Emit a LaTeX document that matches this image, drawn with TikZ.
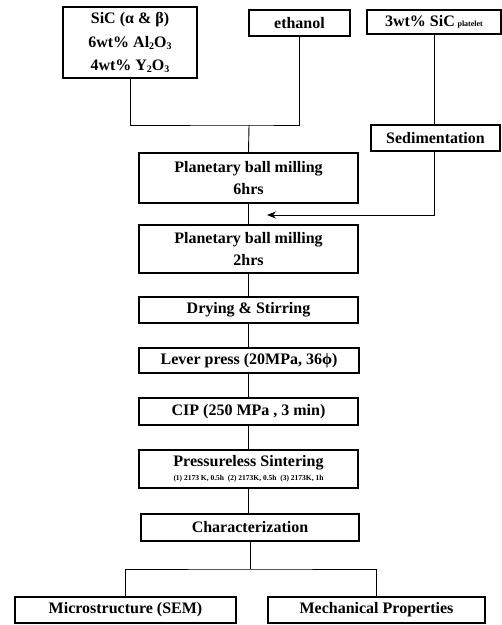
\documentclass[tikz,border=0pt]{standalone}
\usepackage{fontspec}
\setmainfont{Liberation Serif}
\usetikzlibrary{arrows.meta}
\newcommand{\lowr}[1]{\raisebox{-0.35ex}{\fontsize{10}{10}\selectfont #1}}
\begin{document}
\begin{tikzpicture}[x=1pt,y=-1pt,
  box/.style={draw,line width=1.1pt,inner sep=0pt,align=center,font=\fontsize{16}{22}\selectfont\bfseries},
  conn/.style={line width=0.9pt}]
\useasboundingbox (0,0) rectangle (502,625);
\node[box,minimum width=134pt,minimum height=71pt] (sic) at (130,42.5) {SiC (α \& β)\\[2pt]6wt\% Al\lowr{2}O\lowr{3}\\[1pt]4wt\% Y\lowr{2}O\lowr{3}};
\node[box,minimum width=101pt,minimum height=26pt] (eth) at (299.5,23) {ethanol};
\node[box,minimum width=134pt,minimum height=24pt] (plt) at (434,22) {3wt\% SiC\,{\fontsize{8}{8}\selectfont platelet}};
\node[box,minimum width=129pt,minimum height=26pt] (sed) at (435.5,138) {Sedimentation};
\node[box,minimum width=219pt,minimum height=50pt] (pbm1) at (248.5,178) {Planetary ball milling\\6hrs};
\node[box,minimum width=219pt,minimum height=48pt] (pbm2) at (248.5,249) {Planetary ball milling\\2hrs};
\node[box,minimum width=219pt,minimum height=26pt] (dry) at (248.5,310) {Drying \& Stirring};
\node[box,minimum width=220pt,minimum height=25pt] (lev) at (249,360.5) {Lever press (20MPa, 36ϕ)};
\node[box,minimum width=219pt,minimum height=27pt] (cip) at (248.5,411.5) {CIP (250 MPa , 3 min)};
\node[box,minimum width=219pt,minimum height=38pt] (sint) at (248.5,469) {Pressureless Sintering\\[-8pt]{\fontsize{7.5}{9}\selectfont (1) 2173 K, 0.5h\ \ (2) 2173K, 0.5h\ \ (3) 2173K, 1h}};
\node[box,minimum width=218pt,minimum height=27pt] (char) at (250,527.5) {Characterization};
\node[box,minimum width=221pt,minimum height=26pt] (mic) at (125.5,610) {Microstructure (SEM)};
\node[box,minimum width=217pt,minimum height=26pt] (mech) at (376.5,610) {Mechanical Properties};
\coordinate (j1) at (249,125);
\coordinate (arr) at (267,215);
\coordinate (j2) at (250,569);
\draw[conn] (sic.south) |- (j1) -| (eth.south);
\draw[conn] (j1) -- (pbm1.north);
\draw[conn] (plt.south) -- (plt.south |- sed.north);
\draw[conn,-{Stealth[length=9pt,width=7pt]}] (sed.south -| plt.south) |- (arr);
\draw[conn] (pbm1.south) -- (pbm2.north);
\draw[conn] (pbm2.south) -- (dry.north);
\draw[conn] (dry.south) -- (dry.south |- lev.north);
\draw[conn] (dry.south |- lev.south) -- (dry.south |- cip.north);
\draw[conn] (cip.south) -- (sint.north);
\draw[conn] (sint.south) -- (sint.south |- char.north);
\draw[conn] (char.south) -- (j2);
\draw[conn] (mic.north) |- (j2) -| (mech.north);
\end{tikzpicture}
\end{document}
